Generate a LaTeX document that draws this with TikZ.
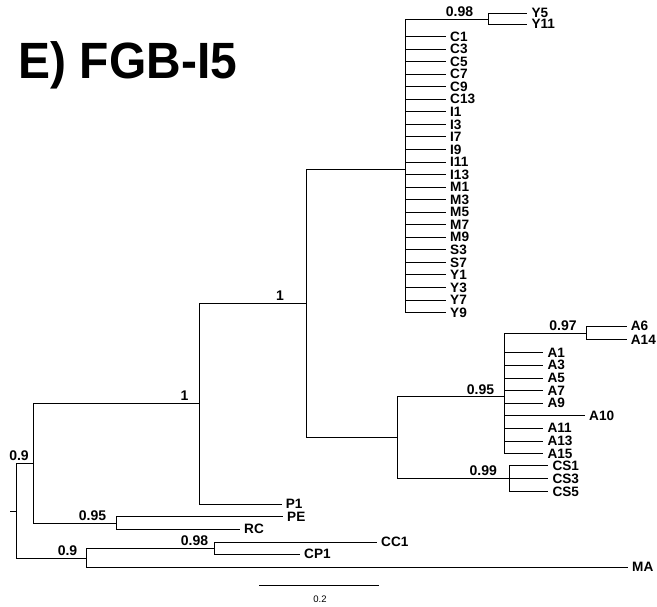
\documentclass[tikz,border=0pt]{standalone}
\usepackage{graphicx}
\usepackage{fontspec}
\setmainfont{Liberation Sans}
\begin{document}
\begin{tikzpicture}[x=1pt,y=-1pt,
  br/.style={line width=0.9pt, black},
  leaf/.style={anchor=west, inner xsep=4pt, inner ysep=0pt, font=\fontsize{13.6}{13.6}\selectfont\bfseries},
  supp/.style={anchor=base, inner sep=0pt, font=\fontsize{14}{14}\selectfont\bfseries}]
\useasboundingbox (0,0) rectangle (657,607);
% title
\node[anchor=base west, inner sep=0pt, font=\fontsize{51}{51}\selectfont\bfseries] (title) at (18.5,79) {\scalebox{0.94}[1]{E) FGB-I5}};
% internal nodes
\coordinate (stub) at (10,511);
\coordinate (root) at (16.7,511);
\coordinate (n1) at (33.3,463);
\coordinate (n2) at (86.7,558);
\coordinate (n3) at (214.3,548.3);
\coordinate (n4) at (199.3,403.3);
\coordinate (n5) at (116.7,523.3);
\coordinate (n6) at (306,303.3);
\coordinate (n7) at (405.7,169.3);
\coordinate (n8) at (488.3,19);
\coordinate (n9) at (397.3,437.3);
\coordinate (n10) at (504.3,396.7);
\coordinate (n11) at (586,333.3);
\coordinate (n12) at (509.3,478.5);
% leaves
\node[leaf] (Y5) at (527.3,13.3) {Y5};
\node[leaf] (Y11) at (527.3,24.3) {Y11};
\foreach \n [count=\i from 0] in {C1,C3,C5,C7,C9,C13,I1,I3,I7,I9,I11,I13,M1,M3,M5,M7,M9,S3,S7,Y1,Y3,Y7,Y9}
  \node[leaf] (\n) at (446,{36.5+12.55*\i}) {\n};
\node[leaf] (A6) at (626.7,326) {A6};
\node[leaf] (A14) at (626.7,339.5) {A14};
\foreach \n/\yy in {A1/352.7,A3/365.3,A5/378,A7/390.5,A9/403.2,A11/428.3,A13/441,A15/453.5}
  \node[leaf] (\n) at (543.3,\yy) {\n};
\node[leaf] (A10) at (585,415.8) {A10};
\node[leaf] (CS1) at (548.3,465.7) {CS1};
\node[leaf] (CS3) at (548.3,478.5) {CS3};
\node[leaf] (CS5) at (548.3,491.5) {CS5};
\node[leaf] (P1) at (281.7,504) {P1};
\node[leaf] (PE) at (283,516.7) {PE};
\node[leaf] (RC) at (240,529.3) {RC};
\node[leaf] (CC1) at (377,542.3) {CC1};
\node[leaf] (CP1) at (300,554.3) {CP1};
\node[leaf] (MA) at (628,567.3) {MA};
% branches
\draw[br] (stub) -- (root);
\draw[br] (root) |- (n1);
\draw[br] (root) |- (n2);
\draw[br] (n1) |- (n4);
\draw[br] (n1) |- (n5);
\draw[br] (n2) |- (n3);
\draw[br] (n2) |- (MA.west);
\draw[br] (n3) |- (CC1.west);
\draw[br] (n3) |- (CP1.west);
\draw[br] (n5) |- (PE.west);
\draw[br] (n5) |- (RC.west);
\draw[br] (n4) |- (n6);
\draw[br] (n4) |- (P1.west);
\draw[br] (n6) |- (n7);
\draw[br] (n6) |- (n9);
\draw[br] (n7) |- (n8);
\draw[br] (n8) |- (Y5.west);
\draw[br] (n8) |- (Y11.west);
\foreach \n in {C1,C3,C5,C7,C9,C13,I1,I3,I7,I9,I11,I13,M1,M3,M5,M7,M9,S3,S7,Y1,Y3,Y7,Y9}
  \draw[br] (n7) |- (\n.west);
\draw[br] (n9) |- (n10);
\draw[br] (n9) |- (n12);
\draw[br] (n10) |- (n11);
\draw[br] (n11) |- (A6.west);
\draw[br] (n11) |- (A14.west);
\foreach \n in {A1,A3,A5,A7,A9,A10,A11,A13,A15}
  \draw[br] (n10) |- (\n.west);
\draw[br] (n12) |- (CS1.west);
\draw[br] (n12) |- (CS3.west);
\draw[br] (n12) |- (CS5.west);
% support values
\node[supp] (s1) at (19,460) {0.9};
\node[supp] (s2) at (67.5,555.5) {0.9};
\node[supp] (s3) at (194.5,545.5) {0.98};
\node[supp] (s4) at (92.5,520.5) {0.95};
\node[supp] (s5) at (184.5,400.5) {1};
\node[supp] (s6) at (280,300.5) {1};
\node[supp] (s7) at (459.5,16.3) {0.98};
\node[supp] (s8) at (480.5,394) {0.95};
\node[supp] (s9) at (563,330.5) {0.97};
\node[supp] (s10) at (483.3,475.7) {0.99};
% scale bar
\coordinate (sbL) at (259.3,585.3);
\coordinate (sbR) at (379.3,585.3);
\draw[br] (sbL) -- (sbR);
\node[anchor=base, inner sep=0pt, font=\fontsize{9.5}{9.5}\selectfont] (sblab) at (320,602.8) {0.2};
\end{tikzpicture}
\end{document}
